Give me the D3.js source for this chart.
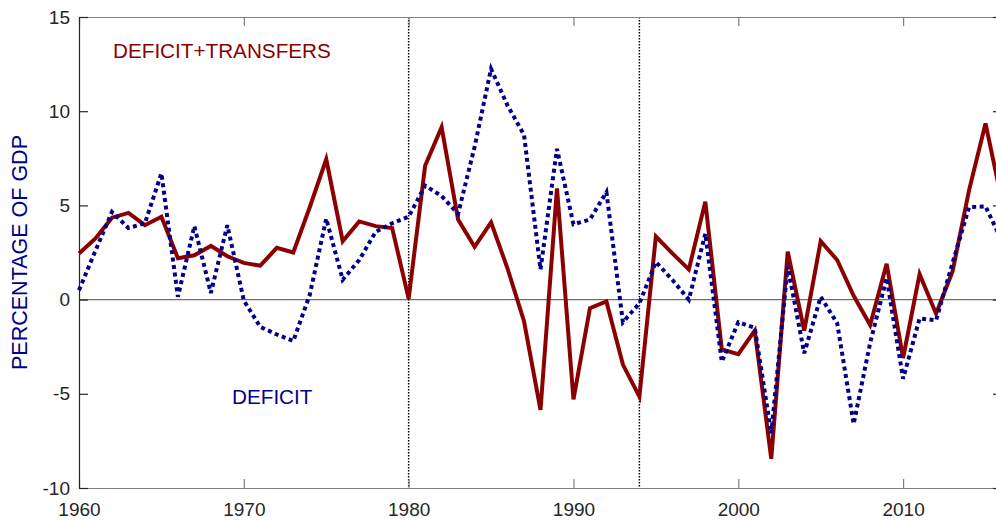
<!DOCTYPE html>
<html>
<head>
<meta charset="utf-8">
<script src="https://cdn.jsdelivr.net/npm/d3@7"></script>
<style>
  html, body { margin: 0; padding: 0; background: #fff; }
  svg { display: block; }
  text { font-family: "Liberation Sans", Arial, Helvetica, sans-serif; }
</style>
</head>
<body>
<div id="chart"></div>
<script>
// ---- data ----
const years = d3.range(1960, 2017);
const deficitTransfers = [
  2.45, 3.25, 4.35, 4.6, 3.95, 4.4, 2.2, 2.35, 2.85, 2.3,
  1.95, 1.8, 2.75, 2.5, 4.9, 7.45, 3.1, 4.15, 3.9, 3.8,
  0.05, 7.1, 9.15, 4.25, 2.8, 4.1, 1.65, -1.15, -5.85, 5.9,
  -5.3, -0.45, -0.1, -3.45, -5.15, 3.35, 2.45, 1.6, 5.2, -2.65,
  -2.9, -1.65, -8.45, 2.55, -1.65, 3.1, 2.1, 0.2, -1.35, 1.9,
  -3.1, 1.35, -0.75, 1.5, 5.8, 9.35, 5.2
];
const deficit = [
  0.5, 2.6, 4.65, 3.8, 4.05, 6.7, 0.15, 3.9, 0.35, 3.95,
  -0.05, -1.45, -1.85, -2.2, 0.25, 4.3, 1.05, 2.1, 3.6, 4.05,
  4.4, 6.05, 5.5, 4.55, 8.1, 12.25, 10.3, 8.75, 1.6, 8.0,
  4.0, 4.25, 5.7, -1.2, -0.2, 2.0, 1.05, 0.0, 3.5, -3.3,
  -1.2, -1.5, -7.1, 1.75, -2.85, 0.15, -1.25, -6.6, -2.3, 1.15,
  -4.2, -1.0, -1.1, 1.95, 4.9, 4.95, 3.1
];
const xTicks = [1960, 1970, 1980, 1990, 2000, 2010];
const yTicks = [-10, -5, 0, 5, 10, 15];
const markerYears = [1980, 1994];
const yLabel = "PERCENTAGE OF GDP";
const labelTop = "DEFICIT+TRANSFERS";
const labelBottom = "DEFICIT";

// ---- layout ----
const W = 996, H = 520;
const mLeft = 79, mTop = 17, mRight = 1002, mBottom = 488;

const svg = d3.select("#chart").append("svg")
  .attr("width", W).attr("height", H);

const x = d3.scaleLinear().domain([1960, 2016]).range([mLeft, mRight]);
const y = d3.scaleLinear().domain([-10, 15]).range([mBottom, mTop]);

const axisGrey = "#808080";
const axisDark = "#262626";
const labelFmt = d => String(d);

// zero line
svg.append("line")
  .attr("x1", mLeft).attr("x2", mRight)
  .attr("y1", y(0)).attr("y2", y(0))
  .attr("stroke", "#6e6e6e").attr("stroke-width", 1.3);

// vertical dotted markers
svg.selectAll("line.marker").data(markerYears).enter().append("line")
  .attr("class", "marker")
  .attr("x1", d => x(d)).attr("x2", d => x(d))
  .attr("y1", mTop).attr("y2", mBottom)
  .attr("stroke", "#000").attr("stroke-width", 1.5)
  .attr("stroke-dasharray", "1.5,1.5");

// bottom axis
const gx = svg.append("g").attr("transform", `translate(0,${mBottom})`)
  .call(d3.axisBottom(x).tickValues(xTicks).tickFormat(labelFmt)
    .tickSizeInner(-9).tickSizeOuter(0).tickPadding(15));
gx.select(".domain").attr("stroke", axisGrey).attr("stroke-width", 1.2);
gx.selectAll(".tick line").attr("stroke", axisGrey).attr("stroke-width", 1.2);
gx.selectAll("text").attr("fill", axisDark).attr("font-size", 19)
  .attr("font-family", "Liberation Sans, Arial, sans-serif");

// top axis
const gt = svg.append("g").attr("transform", `translate(0,${mTop})`)
  .call(d3.axisTop(x).tickValues(xTicks).tickFormat("")
    .tickSizeInner(-9).tickSizeOuter(0));
gt.select(".domain").attr("stroke", axisGrey).attr("stroke-width", 1.2);
gt.selectAll(".tick line").attr("stroke", axisGrey).attr("stroke-width", 1.2);

// left axis
const gy = svg.append("g").attr("transform", `translate(${mLeft},0)`)
  .call(d3.axisLeft(y).tickValues(yTicks).tickFormat(labelFmt)
    .tickSizeInner(-9).tickSizeOuter(0).tickPadding(9));
gy.select(".domain").attr("stroke", axisDark).attr("stroke-width", 1.2);
gy.selectAll(".tick line").attr("stroke", axisDark).attr("stroke-width", 1.2);
gy.selectAll("text").attr("fill", axisDark).attr("font-size", 19)
  .attr("font-family", "Liberation Sans, Arial, sans-serif");

// right axis (mostly off-canvas)
const gr = svg.append("g").attr("transform", `translate(${mRight},0)`)
  .call(d3.axisRight(y).tickValues(yTicks).tickFormat("")
    .tickSizeInner(-9).tickSizeOuter(0));
gr.select(".domain").attr("stroke", axisDark).attr("stroke-width", 1.2);
gr.selectAll(".tick line").attr("stroke", axisDark).attr("stroke-width", 1.2);

// lines
const line = d3.line().x((d, i) => x(years[i])).y(d => y(d));

svg.append("path").datum(deficitTransfers)
  .attr("d", line)
  .attr("fill", "none")
  .attr("stroke", "#8b0000")
  .attr("stroke-width", 4)
  .attr("stroke-linejoin", "miter");

svg.append("path").datum(deficit)
  .attr("d", line)
  .attr("fill", "none")
  .attr("stroke", "#00008b")
  .attr("stroke-width", 4)
  .attr("stroke-dasharray", "4,3.5");

// text labels
svg.append("text")
  .attr("x", 113).attr("y", 58)
  .attr("font-size", 20.7)
  .attr("fill", "#8b0000")
  .text(labelTop);

svg.append("text")
  .attr("x", 232).attr("y", 404)
  .attr("font-size", 20.7)
  .attr("fill", "#00008b")
  .text(labelBottom);

svg.append("text")
  .attr("transform", `translate(27,${(mTop + mBottom) / 2}) rotate(-90)`)
  .attr("text-anchor", "middle")
  .attr("font-size", 21.5)
  .attr("fill", "#00008b")
  .text(yLabel);
</script>
</body>
</html>
